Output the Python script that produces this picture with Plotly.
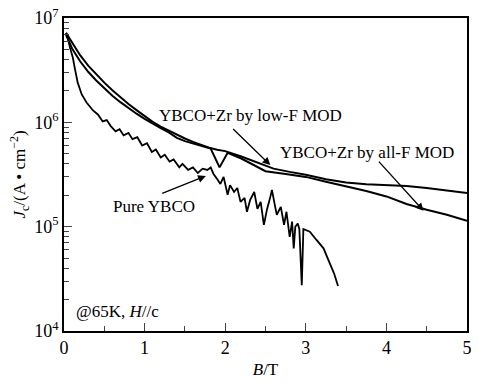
import plotly.graph_objects as go

# Pure YBCO
pure_B = [0.025, 0.05, 0.074, 0.11, 0.135, 0.17, 0.22, 0.28, 0.36, 0.42, 0.48, 0.53, 0.58, 0.64,
          0.69, 0.74, 0.80, 0.85, 0.91, 0.97, 1.03, 1.09, 1.14, 1.20, 1.25, 1.31, 1.36, 1.43,
          1.47, 1.54, 1.60, 1.66, 1.72, 1.78, 1.82, 1.855, 1.90, 1.94, 1.98, 2.03, 2.06, 2.11,
          2.15, 2.19, 2.24, 2.27, 2.31, 2.36, 2.40, 2.44, 2.48, 2.52, 2.56, 2.58, 2.62, 2.64,
          2.69, 2.73, 2.76, 2.80, 2.83, 2.85, 2.87, 2.90, 2.92, 2.95, 2.97, 3.05, 3.13, 3.22,
          3.29, 3.35, 3.40]
pure_J = [7.2e6, 6.3e6, 5.2e6, 4.16e6, 3.27e6, 2.4e6, 1.85e6, 1.55e6, 1.3e6, 1.19e6, 1.02e6, 1.05e6, 9.2e5, 8.2e5,
          8.6e5, 7.5e5, 7.9e5, 6.9e5, 7.2e5, 6.0e5, 6.3e5, 5.2e5, 5.5e5, 4.6e5, 4.9e5, 4.2e5, 4.4e5, 3.7e5,
          4.0e5, 3.5e5, 3.7e5, 3.27e5, 3.6e5, 3.5e5, 3.7e5, 3.2e5, 2.87e5, 2.57e5, 3.0e5, 2.02e5, 2.5e5, 2.15e5,
          2.35e5, 1.73e5, 1.89e5, 1.39e5, 1.81e5, 2.15e5, 1.48e5, 1.73e5, 1.04e5, 1.48e5, 1.93e5, 2.25e5, 1.55e5, 1.3e5,
          1.55e5, 1.04e5, 1.39e5, 8.0e4, 1.12e5, 6.2e4, 1.0e5, 1.07e5, 9.5e4, 2.74e4, 9.5e4, 8.96e4, 7.5e4, 6.2e4,
          4.6e4, 3.57e4, 2.7e4]

# YBCO+Zr by low-F MOD
lowF_B = [0.025, 0.05, 0.1, 0.2, 0.3, 0.4, 0.5, 0.6, 0.7, 0.8, 0.9, 1.0, 1.1, 1.2, 1.3, 1.4, 1.5,
          1.6, 1.7, 1.8, 1.9, 2.0, 2.2, 2.4, 2.6, 2.8, 3.0, 3.25, 3.5, 3.75, 4.0, 4.25, 4.5, 4.75, 5.0]
lowF_J = [7.2e6, 6.7e6, 5.8e6, 4.4e6, 3.5e6, 2.88e6, 2.4e6, 2.03e6, 1.74e6, 1.5e6, 1.31e6, 1.14e6, 1.01e6,
          9.1e5, 8.3e5, 7.6e5, 7.0e5, 6.5e5, 6.05e5, 5.7e5, 5.45e5, 5.3e5, 4.7e5, 4.1e5, 3.6e5, 3.35e5, 3.15e5,
          2.85e5, 2.65e5, 2.55e5, 2.5e5, 2.45e5, 2.35e5, 2.22e5, 2.1e5]

# YBCO+Zr by all-F MOD
allF_B = [0.025, 0.05, 0.1, 0.2, 0.3, 0.4, 0.5, 0.6, 0.7, 0.8, 0.9, 1.0, 1.1, 1.2, 1.3, 1.4, 1.5,
          1.6, 1.7, 1.82, 1.93, 2.03, 2.2, 2.4, 2.5, 2.75, 3.0, 3.25, 3.5, 3.75, 4.0, 4.25, 4.5,
          4.75, 5.0]
allF_J = [6.9e6, 6.2e6, 5.1e6, 3.85e6, 3.05e6, 2.52e6, 2.12e6, 1.8e6, 1.56e6, 1.37e6, 1.21e6, 1.08e6, 9.7e5,
          8.8e5, 8.0e5, 7.1e5, 6.6e5, 6.3e5, 6.0e5, 5.6e5, 3.7e5, 5.1e5, 4.5e5, 3.7e5, 3.4e5, 3.2e5,
          3.0e5, 2.7e5, 2.45e5, 2.2e5, 1.95e5, 1.65e5, 1.45e5, 1.3e5, 1.14e5]

y_tickvals = [1e4, 1e5, 1e6, 1e7]
y_ticktext = ["10<sup>4</sup>", "10<sup>5</sup>", "10<sup>6</sup>", "10<sup>7</sup>"]
y_minor = [m * d for d in (1e4, 1e5, 1e6) for m in range(2, 10)]
x_tickvals = [0, 1, 2, 3, 4, 5]
x_minor = [0.5, 1.5, 2.5, 3.5, 4.5]

FONT = "'Times New Roman', 'Liberation Serif', 'DejaVu Serif', serif"

fig = go.Figure()
for bx, jy, w in [(lowF_B, lowF_J, 2.0), (allF_B, allF_J, 2.0), (pure_B, pure_J, 1.8)]:
    fig.add_trace(go.Scatter(x=bx, y=jy, mode="lines",
                             line=dict(color="black", width=w), showlegend=False))

def arrow(head, tail):
    fig.add_annotation(x=head[0], y=head[1], ax=tail[0], ay=tail[1],
                       xref="x", yref="y", axref="x", ayref="y",
                       showarrow=True, arrowhead=2, arrowsize=1.2, arrowwidth=1.3,
                       arrowcolor="black", text="")

arrow((2.56, 5.59), (2.08, 5.95))
arrow((4.46, 5.152), (3.89, 5.638))
arrow((1.76, 5.486), (1.2, 5.314))

def label(x, y, t, anchor="center"):
    fig.add_annotation(x=x, y=y, xref="x", yref="y", text=t, showarrow=False,
                       xanchor=anchor, font=dict(family=FONT, size=17, color="black"))

label(2.31, 6.067, "YBCO+Zr by low-F MOD")
label(3.76, 5.714, "YBCO+Zr by all-F MOD")
label(1.12, 5.19, "Pure YBCO")
label(0.13, 4.19, "@65K, <i>H</i>//c", anchor="left")

fig.update_xaxes(range=[0, 5], tickvals=x_tickvals, ticks="inside", ticklen=8, tickwidth=1.3,
                 showline=True, linecolor="black", linewidth=1.5, mirror=True,
                 showgrid=False, zeroline=False,
                 minor=dict(tickvals=x_minor, ticks="inside", ticklen=5, tickwidth=1.2, showgrid=False),
                 tickfont=dict(family=FONT, size=18, color="black"),
                 title=dict(text="<i>B</i>/T", font=dict(family=FONT, size=17, color="black"), standoff=6))
fig.update_yaxes(type="log", range=[4, 7], tickvals=y_tickvals, ticktext=y_ticktext,
                 ticks="inside", ticklen=8, tickwidth=1.3,
                 showline=True, linecolor="black", linewidth=1.5, mirror=True,
                 showgrid=False, zeroline=False,
                 minor=dict(tickvals=y_minor, ticks="inside", ticklen=5, tickwidth=1.2, showgrid=False),
                 tickfont=dict(family=FONT, size=18, color="black"),
                 title=dict(text="<i>J</i><sub>c</sub>/(A • cm<sup>−2</sup>)",
                            font=dict(family=FONT, size=17, color="black"), standoff=4))

fig.update_layout(width=478, height=382, margin=dict(l=64, r=6, t=15, b=51),
                  plot_bgcolor="white", paper_bgcolor="white",
                  font=dict(family=FONT, color="black"))

fig.write_html("out.html")
